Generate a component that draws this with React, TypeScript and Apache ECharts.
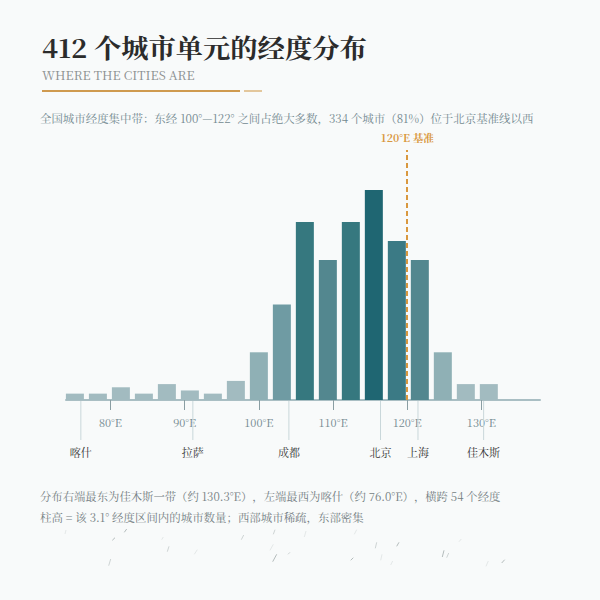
import React, { useEffect, useRef } from "react";
import * as echarts from "echarts";

const SERIF = '"Noto Serif CJK SC", "Liberation Serif", "Noto Sans CJK SC", serif';

// left edge of each 3.1 degree bin is 74.0 + i * 3.1, bars are drawn at their centre
const binCenters = [75.2, 78.3, 81.4, 84.5, 87.6, 90.7, 93.8, 96.9, 100.0, 103.1, 106.2, 109.3, 112.4, 115.5, 118.6, 121.7, 124.8, 127.9, 131.0];
const cityCounts = [2, 2, 4, 2, 5, 3, 2, 6, 15, 30, 56, 44, 56, 66, 50, 44, 15, 5, 5];

const tickValues = [80, 90, 100, 110, 120, 130];

const cityNames = ["喀什", "拉萨", "成都", "北京", "上海", "佳木斯"];
const cityLongitudes = [76.0, 91.1, 104.05, 116.4, 121.45, 130.3];

// decorative strokes under the notes: x1, y1, x2, y2
const darkStrokes = [
  [126.7, 529, 124.3, 532.3], [115, 537.7, 112.3, 540.3], [276.7, 554.3, 272.7, 561.7],
  [399, 542.3, 396.7, 546.3], [353.3, 557.7, 350.7, 560.3], [444, 550.3, 442.3, 557],
  [504.7, 559.7, 501.7, 563],
];
const midStrokes = [
  [243.7, 535, 241.3, 539.7], [169, 546.3, 167.3, 551.7], [110.7, 559, 108.7, 565.7],
  [275, 529.7, 273.3, 534.3], [290, 552.3, 288, 554.3], [376.7, 542.3, 375.3, 548.3],
  [448.7, 553, 446.7, 557.7],
];
const faintStrokes = [
  [66, 530, 65, 534], [163.3, 537, 161.7, 539.7], [197.3, 549.7, 194.3, 554.3],
  [306, 531, 304.3, 537], [356.7, 529.7, 354.3, 534.3], [273.3, 544.3, 270, 550.3],
  [382, 554.3, 380.7, 560.3], [392.7, 561, 390.7, 565], [461.3, 539, 459, 541.7],
  [488.3, 561, 486, 566.3],
];

const barColor = (count: number) => {
  if (count >= 66) return "#1f6672";
  if (count >= 56) return "#36787f";
  if (count >= 50) return "#3b7a85";
  if (count >= 44) return "#53878f";
  if (count >= 30) return "#6f9ba3";
  if (count >= 15) return "#8fb0b5";
  return "#a2bbc0";
};

const App: React.FC = () => {
  const chartRef = useRef<HTMLDivElement>(null);

  useEffect(() => {
    if (!chartRef.current) return;
    const chart = echarts.init(chartRef.current, null, { renderer: "svg" });

    const text = (x: number, y: number, content: string, fontSize: number, fill: string, fontWeight = "normal", scaleX = 1) => ({
      type: "text",
      x,
      y,
      scaleX,
      style: { text: content, fontSize, fill, fontWeight, fontFamily: SERIF, textVerticalAlign: "middle" },
    });

    const strokeLines = (list: number[][], stroke: string) =>
      list.map((s) => ({
        type: "line",
        shape: { x1: s[0], y1: s[1], x2: s[2], y2: s[3] },
        style: { stroke, lineWidth: 1 },
      }));

    chart.setOption({
      animation: false,
      backgroundColor: "#f8fafa",
      grid: { left: 66, right: 60, top: 150, bottom: 200 },
      xAxis: {
        type: "value",
        min: 74,
        max: 137.9,
        splitLine: { show: false },
        axisLine: { show: true, onZero: false, lineStyle: { color: "#a9bec3", width: 2 } },
        axisTick: { show: true, customValues: tickValues, length: 10, lineStyle: { color: "#8a9ea3", width: 1 } },
        axisLabel: {
          customValues: tickValues,
          formatter: (v: number) => v + "°E",
          color: "#738990",
          fontSize: 11,
          fontFamily: SERIF,
          margin: 16,
        },
      },
      yAxis: { type: "value", min: 0, max: 78.6, show: false },
      series: [
        {
          type: "bar",
          barWidth: 18,
          data: binCenters.map((c, i) => ({
            value: [c, cityCounts[i]],
            itemStyle: { color: barColor(cityCounts[i]) },
          })),
          markLine: {
            silent: true,
            symbol: "none",
            data: [{ xAxis: 120 }],
            lineStyle: { color: "#d9983f", type: [5, 3], width: 2 },
            label: {
              show: true,
              position: "end",
              distance: 7,
              formatter: "120°E 基准",
              color: "#d9983f",
              fontSize: 10.6,
              fontWeight: "bold",
              fontFamily: SERIF,
            },
          },
        },
        {
          type: "custom",
          clip: false,
          silent: true,
          data: cityLongitudes.map((lon, i) => [lon, i]),
          renderItem: (_params: any, api: any) => {
            const [x, y] = api.coord([api.value(0), 0]);
            return {
              type: "group",
              children: [
                { type: "line", shape: { x1: x, y1: y + 1, x2: x, y2: y + 40 }, style: { stroke: "#c9d7da", lineWidth: 1 } },
                {
                  type: "text",
                  x,
                  y: y + 52,
                  style: {
                    text: cityNames[api.value(1)],
                    fontSize: 11,
                    fill: "#333333",
                    fontFamily: SERIF,
                    align: "center",
                    verticalAlign: "middle",
                  },
                },
              ],
            };
          },
        },
      ],
      graphic: [
        text(42, 47, "412 个城市单元的经度分布", 26, "#2b2b2b", "bold", 1.05),
        text(42, 74.5, "WHERE THE CITIES ARE", 12.4, "#8a8f8f"),
        { type: "rect", shape: { x: 42, y: 90, width: 198, height: 2 }, style: { fill: "#cf9a4f" } },
        { type: "rect", shape: { x: 244, y: 90, width: 18, height: 2 }, style: { fill: "#e3c79c" } },
        text(40, 118, "全国城市经度集中带：东经 100°—122° 之间占绝大多数，334 个城市（81%）位于北京基准线以西", 11.45, "#738990"),
        text(40, 496, "分布右端最东为佳木斯一带（约 130.3°E），左端最西为喀什（约 76.0°E），横跨 54 个经度", 11.35, "#757f83"),
        text(40, 517, "柱高 = 该 3.1° 经度区间内的城市数量；西部城市稀疏，东部密集", 11.45, "#757f83"),
        ...strokeLines(darkStrokes, "#b4bcbc"),
        ...strokeLines(midStrokes, "#ced4d4"),
        ...strokeLines(faintStrokes, "#e4e8e8"),
      ],
    });

    return () => {
      chart.dispose();
    };
  }, []);

  // keep the full width of adjacent CJK punctuation, as in the notes line
  const boxStyle: any = { position: "fixed", left: 0, top: 0, width: 600, height: 600, textSpacingTrim: "space-all" };

  return <div ref={chartRef} style={boxStyle} />;
};

export default App;
